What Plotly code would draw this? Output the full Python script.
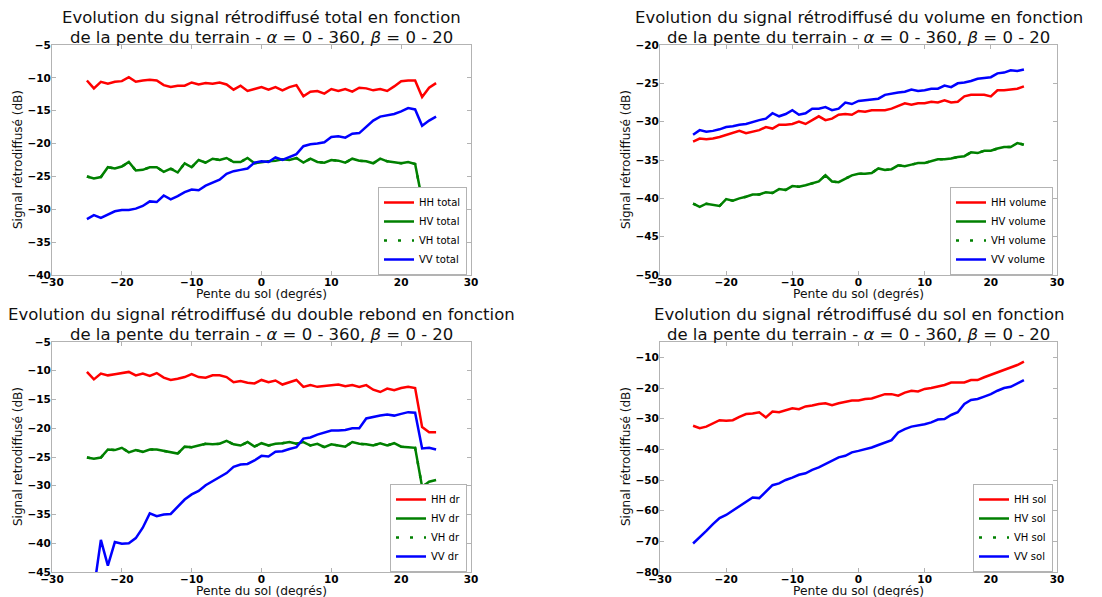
import plotly.graph_objects as go

pente = list(range(-25, 26))

# --- total ---
hh_total = [-10.4, -11.6, -10.6, -10.9, -10.6, -10.5, -9.9, -10.6, -10.4, -10.3, -10.4, -11.1, -11.4, -11.2, -11.2,
            -10.7, -11.0, -10.8, -10.9, -10.7, -11.0, -11.8, -11.2, -12.0, -11.7, -11.4, -11.8, -11.4, -11.9, -11.4,
            -11.1, -12.8, -12.1, -12.0, -12.4, -11.7, -12.0, -11.7, -12.1, -11.5, -11.6, -11.9, -11.7, -12.0, -11.3,
            -10.5, -10.4, -10.4, -12.9, -11.5, -10.8]
hv_total = [-25.0, -25.3, -25.1, -23.6, -23.8, -23.5, -22.8, -24.1, -24.0, -23.6, -23.6, -24.3, -23.8, -24.4, -23.0,
            -23.6, -22.5, -22.9, -22.3, -22.5, -22.2, -22.8, -22.8, -22.2, -23.0, -22.8, -22.7, -22.6, -22.4, -22.5,
            -22.2, -22.9, -22.3, -22.8, -22.9, -22.5, -22.6, -22.9, -22.3, -22.6, -22.7, -23.0, -22.3, -22.7, -22.9,
            -23.0, -22.8, -23.1, -28.6, -27.8, -27.6]
vh_total = hv_total
vv_total = [-31.5, -30.9, -31.3, -30.8, -30.3, -30.1, -30.1, -29.9, -29.5, -28.8, -28.9, -27.9, -28.5, -28.0, -27.4,
            -27.0, -27.1, -26.4, -25.9, -25.5, -24.6, -24.2, -24.0, -23.8, -22.9, -22.7, -22.8, -22.1, -22.5, -22.0,
            -21.6, -20.4, -20.1, -20.0, -19.8, -19.0, -18.9, -19.1, -18.5, -18.4, -17.5, -16.5, -15.9, -15.7, -15.5,
            -15.1, -14.6, -14.8, -17.3, -16.5, -15.9]

# --- volume ---
hh_volume = [-32.6, -32.2, -32.3, -32.2, -32.0, -31.7, -31.4, -31.2, -31.5, -31.3, -31.1, -30.7, -30.9, -30.4, -30.4,
             -30.3, -30.0, -30.3, -29.8, -29.3, -29.8, -29.6, -29.1, -29.0, -29.1, -28.6, -28.7, -28.5, -28.5, -28.5,
             -28.3, -28.0, -27.6, -27.8, -27.6, -27.6, -27.4, -27.5, -27.2, -27.5, -27.4, -26.7, -26.5, -26.5, -26.5,
             -26.7, -25.9, -25.9, -25.8, -25.7, -25.4]
hv_volume = [-40.7, -41.1, -40.7, -40.9, -41.0, -40.1, -40.3, -40.0, -39.8, -39.5, -39.5, -39.2, -39.3, -38.8, -38.9,
             -38.4, -38.5, -38.3, -38.0, -37.8, -37.0, -37.8, -37.9, -37.4, -37.0, -36.8, -36.8, -36.7, -36.1, -36.3,
             -36.2, -35.7, -35.8, -35.6, -35.4, -35.4, -35.1, -34.9, -34.9, -34.8, -34.6, -34.5, -34.0, -34.1, -33.8,
             -33.8, -33.5, -33.3, -33.3, -32.8, -33.0]
vh_volume = hv_volume
vv_volume = [-31.7, -31.1, -31.3, -31.2, -31.0, -30.7, -30.6, -30.4, -30.3, -30.0, -29.8, -29.6, -28.9, -29.3, -29.0,
             -28.5, -29.1, -28.9, -28.3, -28.3, -28.1, -28.5, -28.3, -27.5, -27.7, -27.3, -27.2, -27.1, -27.0, -26.5,
             -26.3, -26.2, -26.1, -25.8, -26.0, -25.9, -25.7, -25.7, -25.3, -25.5, -25.0, -24.9, -24.7, -24.4, -24.3,
             -24.2, -23.7, -23.6, -23.3, -23.4, -23.2]

# --- double rebond ---
hh_dr = [-10.2, -11.5, -10.5, -10.8, -10.6, -10.4, -10.2, -10.8, -10.5, -10.9, -10.4, -11.2, -11.6, -11.4, -11.1,
         -10.6, -11.1, -11.2, -10.8, -10.8, -11.1, -12.0, -11.8, -12.1, -12.2, -11.6, -12.0, -11.7, -12.4, -12.0,
         -11.6, -12.8, -12.5, -12.8, -12.7, -12.5, -12.4, -12.7, -12.5, -12.8, -12.5, -13.3, -13.7, -13.1, -13.4,
         -13.0, -12.8, -13.0, -19.8, -20.7, -20.7]
hv_dr = [-25.1, -25.3, -25.1, -23.7, -23.8, -23.4, -24.2, -23.8, -24.1, -23.7, -23.7, -23.9, -24.1, -24.4, -23.2,
         -23.3, -23.0, -22.7, -22.8, -22.7, -22.2, -22.8, -23.0, -22.4, -23.2, -22.6, -23.0, -22.7, -22.6, -22.4,
         -22.7, -22.4, -23.0, -22.7, -23.3, -22.8, -23.0, -23.2, -22.4, -22.7, -22.8, -23.0, -22.6, -23.0, -22.6,
         -23.2, -23.3, -23.4, -30.2, -29.3, -29.0]
vh_dr = hv_dr
vv_dr = [-51.0, -48.0, -39.4, -43.9, -39.8, -40.1, -40.0, -39.1, -37.3, -34.8, -35.3, -35.0, -34.9, -33.7, -32.4,
         -31.5, -30.9, -29.9, -29.2, -28.5, -27.8, -26.7, -26.3, -26.2, -25.6, -24.8, -24.9, -24.1, -24.0, -23.6,
         -23.3, -21.8, -21.6, -21.1, -20.8, -20.4, -20.4, -20.3, -20.0, -20.0, -18.3, -18.0, -17.8, -17.6, -17.8,
         -17.5, -17.2, -17.3, -23.5, -23.4, -23.7]

# --- sol ---
hh_sol = [-32.3, -33.1, -32.6, -31.5, -30.5, -30.7, -30.5, -29.4, -28.5, -28.3, -27.9, -29.6, -27.7, -27.9, -27.2,
          -26.6, -26.9, -26.0, -25.7, -25.2, -25.0, -25.6, -25.0, -24.5, -24.1, -24.1, -23.6, -23.4, -22.8, -22.0,
          -22.0, -22.5, -21.5, -20.9, -21.1, -20.3, -20.0, -19.6, -19.0, -18.2, -18.2, -18.2, -17.4, -17.4, -16.5,
          -15.7, -14.9, -14.1, -13.3, -12.5, -11.4]
hv_sol = []
vh_sol = []
vv_sol = [-70.7, -68.8, -66.6, -64.4, -62.4, -61.4, -60.0, -58.4, -57.0, -55.7, -55.9, -53.7, -51.7, -51.1, -50.0,
          -49.2, -48.3, -47.8, -46.7, -45.9, -44.8, -43.7, -42.6, -42.1, -41.0, -40.5, -40.0, -39.4, -38.6, -37.7,
          -37.0, -34.5, -33.4, -32.6, -32.3, -31.8, -31.2, -30.3, -30.1, -28.8, -27.9, -25.2, -23.9, -23.6, -22.8,
          -22.0, -20.9, -20.0, -19.6, -18.5, -17.4]

panels = [
    dict(suffix="total", data=[hh_total, hv_total, vh_total, vv_total], yrange=[-40, -5], dtick=5,
         title="Evolution du signal rétrodiffusé total en fonction",
         ylabel="Signal rétrodiffusé (dB)"),
    dict(suffix="volume", data=[hh_volume, hv_volume, vh_volume, vv_volume], yrange=[-50, -20], dtick=5,
         title="Evolution du signal rétrodiffusé du volume en fonction",
         ylabel="Signal rétrodiffusé (dB)"),
    dict(suffix="dr", data=[hh_dr, hv_dr, vh_dr, vv_dr], yrange=[-45, -5], dtick=5,
         title="Evolution du signal rétrodiffusé du double rebond en fonction",
         ylabel="Signal retrodiffusé (dB)"),
    dict(suffix="sol", data=[hh_sol, hv_sol, vh_sol, vv_sol], yrange=[-80, -5], dtick=10,
         title="Evolution du signal rétrodiffusé du sol en fonction",
         ylabel="Signal rétrodiffusé (dB)"),
]
subtitle = "de la pente du terrain - <i>α</i> = 0 - 360, <i>β</i> = 0 - 20"
pols = ["HH", "HV", "VH", "VV"]
colors = ["#ff0000", "#008000", "#008000", "#0000ff"]
dashes = ["solid", "solid", "3px,11px", "solid"]

# the page body has an 8px margin: the figure is sized to fill the window exactly
OFF = 8
W, H = 1102 - OFF, 597 - OFF


def fx(px):
    return (px - OFF) / W


def fy(py):
    return 1 - (py - OFF) / H


# screen pixel boxes (left, right, top, bottom)
boxes = [(52, 471, 45, 275), (660, 1057, 45, 275), (52, 471, 342, 572), (660, 1057, 342, 572)]

FONT = "DejaVu Sans"
fig = go.Figure()
annotations = []
layout = dict(width=W, height=H, margin=dict(l=0, r=0, t=0, b=0, autoexpand=False), paper_bgcolor="white",
              plot_bgcolor="white", showlegend=True)

for i, (p, (l, r, t, b)) in enumerate(zip(panels, boxes)):
    k = "" if i == 0 else str(i + 1)
    leg = "legend" if i == 0 else f"legend{i + 1}"
    for j in range(4):
        ys = p["data"][j]
        xs = pente[:len(ys)]
        fig.add_trace(go.Scatter(
            x=xs if ys else [None], y=ys if ys else [None], mode="lines",
            name=f"{pols[j]} {p['suffix']}",
            line=dict(color=colors[j], width=2.5, dash=dashes[j]),
            xaxis="x" + k, yaxis="y" + k, legend=leg, showlegend=True))
    axcommon = dict(showgrid=False, zeroline=False, showline=True, mirror="allticks", automargin=False,
                    linecolor="#b3b3b3", linewidth=1, ticks="inside", ticklen=4, tickcolor="#b3b3b3",
                    tickfont=dict(family=FONT, size=10.5, color="black", weight="bold"))
    layout["xaxis" + k] = dict(axcommon, domain=[fx(l), fx(r)], range=[-30, 30], dtick=10, tick0=0,
                               anchor="y" + k, ticklabelstandoff=-3)
    layout["yaxis" + k] = dict(axcommon, domain=[fy(b), fy(t)], range=p["yrange"],
                               dtick=p["dtick"], tick0=-80, anchor="x" + k, ticklabelstandoff=-2)
    cx = fx((l + r) / 2)
    annotations.append(dict(text=p["title"], x=cx, y=fy(t - 28), xref="paper", yref="paper",
                            xanchor="center", yanchor="middle", showarrow=False,
                            font=dict(family=FONT, size=16.5, color="#111111")))
    annotations.append(dict(text=subtitle, x=cx, y=fy(t - 8), xref="paper", yref="paper",
                            xanchor="center", yanchor="middle", showarrow=False,
                            font=dict(family=FONT, size=16.5, color="#111111")))
    annotations.append(dict(text="Pente du sol (degrés)", x=cx, y=fy(b + 19), xref="paper",
                            yref="paper", xanchor="center", yanchor="middle", showarrow=False,
                            font=dict(family=FONT, size=12.3, color="#111111")))
    annotations.append(dict(text=p["ylabel"], x=fx(l - 34), y=fy((t + b) / 2), xref="paper",
                            yref="paper", xanchor="center", yanchor="middle", showarrow=False, textangle=-90,
                            font=dict(family=FONT, size=12, color="#111111")))
    layout[leg] = dict(x=fx(r - 4), y=fy(b), xanchor="right", yanchor="bottom",
                       bgcolor="white", bordercolor="#b3b3b3", borderwidth=1,
                       font=dict(family=FONT, size=10, color="black"), tracegroupgap=0)

layout["annotations"] = annotations
fig.update_layout(**layout)
fig.write_html("out.html")
